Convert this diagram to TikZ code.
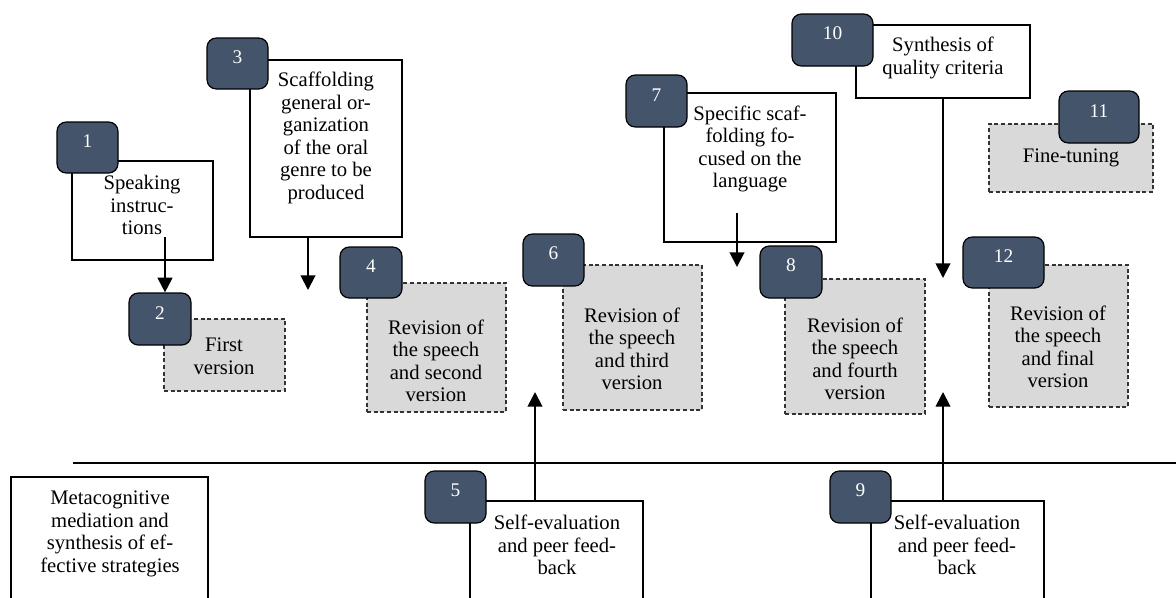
\documentclass[tikz,border=0pt]{standalone}
\usepackage{fontspec}
\setmainfont{Liberation Serif}
\usetikzlibrary{arrows.meta,fit}
\definecolor{badgeblue}{HTML}{44546A}
\definecolor{boxgray}{HTML}{D9D9D9}
\tikzset{
  badge/.style={draw=black, fill=badgeblue, rounded corners=7pt, line width=0.9pt, inner sep=0pt, text=white, font=\fontsize{14.5}{16}\selectfont},
  whitebox/.style={draw=black, fill=white, line width=0.8pt, inner sep=0pt},
  graybox/.style={draw=black!80, fill=boxgray, line width=0.8pt, dash pattern=on 3pt off 2pt, inner sep=0pt},
  boxtext/.style={align=center, inner sep=0pt, font=\fontsize{15.5}{16.9}\selectfont},
  arr/.style={-{Triangle[width=11pt,length=11pt]}, line width=1.5pt},
  divider/.style={line width=1.5pt}
}
\begin{document}
\begin{tikzpicture}[x={(0.75pt,0)}, y={(0,-0.75pt)}]
        \useasboundingbox (0,0) rectangle (1176,597);
        \clip (0,0) rectangle (1176,597);

        % Scaffolding boxes (white)
        \node[whitebox, fit={(72,161) (213,260)}] (b1) {};
        \node[whitebox, fit={(250,60) (402,237)}] (b3) {};
        \node[whitebox, fit={(664,93) (836,242)}] (b7) {};
        \node[whitebox, fit={(856,25) (1030,98)}] (b10) {};

        % Versions of the speech (grey, dashed)
        \node[graybox, fit={(164,319) (285,391)}] (b2) {};
        \node[graybox, fit={(367,283) (506,412)}] (b4) {};
        \node[graybox, fit={(563,265) (702,410)}] (b6) {};
        \node[graybox, fit={(785,279) (925,414)}] (b8) {};
        \node[graybox, fit={(989,124) (1153,192)}] (b11) {};
        \node[graybox, fit={(989,265) (1128,407)}] (b12) {};

        % Boxes below the divider
        \node[whitebox, fit={(11,477) (208,620)}] (bM) {};
        \node[whitebox, fit={(470,501) (643,620)}] (b5) {};
        \node[whitebox, fit={(871,501) (1044,620)}] (b9) {};

        % Texts
        \node[boxtext] (t1) at (142,205) {Speaking\\instruc-\\tions};
        \node[boxtext] (t2) at (224,356) {First\\version};
        \node[boxtext] (t3) at (326,138) {Scaffolding\\general or-\\ganization\\of the oral\\genre to be\\produced};
        \node[boxtext] (t4) at (436,361) {Revision of\\the speech\\and second\\version};
        \node[boxtext] (t5) at (557,545) {Self-evaluation\\and peer feed-\\back};
        \node[boxtext] (t6) at (632,349) {Revision of\\the speech\\and third\\version};
        \node[boxtext] (t7) at (750,149) {Specific scaf-\\folding fo-\\cused on the\\language};
        \node[boxtext] (t8) at (855,359) {Revision of\\the speech\\and fourth\\version};
        \node[boxtext] (t9) at (957,545) {Self-evaluation\\and peer feed-\\back};
        \node[boxtext] (t10) at (943,58) {Synthesis of\\quality criteria};
        \node[boxtext] (t11) at (1071,158) {Fine-tuning};
        \node[boxtext] (t12) at (1058,347) {Revision of\\the speech\\and final\\version};
        \node[boxtext] (tM) at (110,534) {Metacognitive\\mediation and\\synthesis of ef-\\fective strategies};

        % Step numbers
        \node[badge, fit={(57,122) (118,173)}] (n1) {1};
        \node[badge, fit={(129,293) (191,345)}] (n2) {2};
        \node[badge, fit={(207,38) (268,89)}] (n3) {3};
        \node[badge, fit={(340,247) (402,298)}] (n4) {4};
        \node[badge, fit={(425,471) (486,523)}] (n5) {5};
        \node[badge, fit={(523,234) (584,286)}] (n6) {6};
        \node[badge, fit={(626,75) (687,127)}] (n7) {7};
        \node[badge, fit={(760,246) (822,298)}] (n8) {8};
        \node[badge, fit={(830,471) (891,523)}] (n9) {9};
        \node[badge, fit={(792,14) (873,66)}] (n10) {10};
        \node[badge, fit={(1059,91) (1139,143)}] (n11) {11};
        \node[badge, fit={(963,237) (1044,288)}] (n12) {12};

        % Divider
        \coordinate (divL) at (73,463);
        \coordinate (divR) at (1176,463);
        \draw[divider] (divL) -- (divR);

        % Arrows
        \coordinate (a1) at (165,237);
        \coordinate (a3) at (308,290);
        \coordinate (s7) at (737,213);
        \coordinate (a7) at (737,267);
        \coordinate (a10) at (943,278);
        \coordinate (a5) at (535,392);
        \coordinate (a9) at (943,392);
        \draw[arr] (a1) -- (a1 |- n2.north);
        \draw[arr] (b3.south -| a3) -- (a3);
        \draw[arr] (s7) -- (a7);
        \draw[arr] (b10.south -| a10) -- (a10);
        \draw[arr] (b5.north -| a5) -- (a5);
        \draw[arr] (b9.north -| a9) -- (a9);
    \end{tikzpicture}
\end{document}
